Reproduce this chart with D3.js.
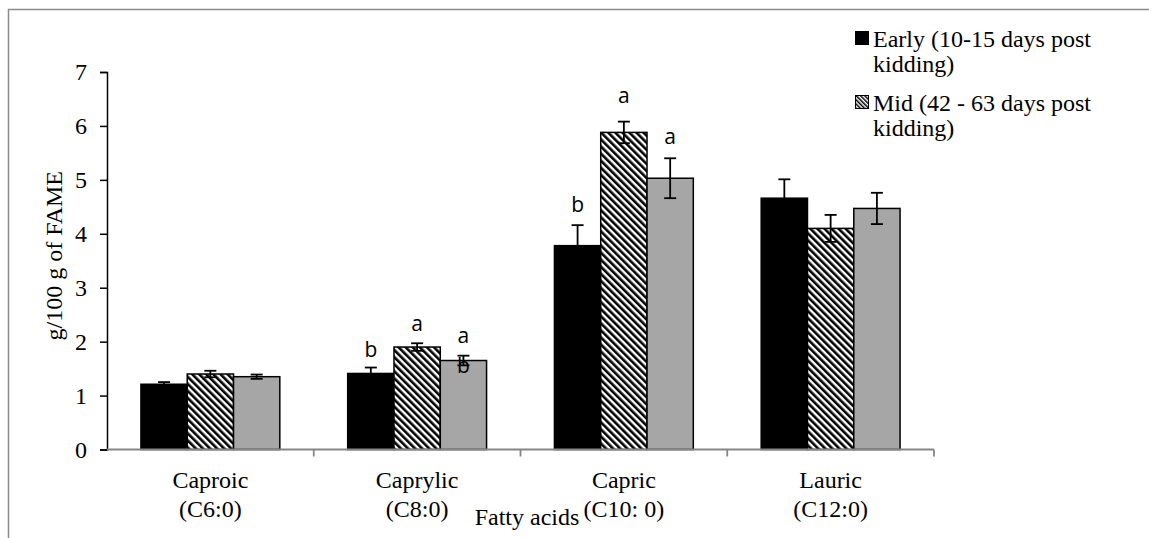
<!DOCTYPE html>
<html>
<head>
<meta charset="utf-8">
<script src="https://cdn.jsdelivr.net/npm/d3@7"></script>
<style>
  body { margin: 0; background: #fff; }
  svg { display: block; }
</style>
</head>
<body>
<div id="chart"></div>
<script>
// Chart data
const categoryNames = ["Caproic", "Caprylic", "Capric", "Lauric"];
const categoryCodes = ["(C6:0)", "(C8:0)", "(C10: 0)", "(C12:0)"];
const seriesNames = ["Early (10-15 days post kidding)", "Mid (42 - 63 days post kidding)", "Late"];
const legendLines = [["Early (10-15 days post", "kidding)"], ["Mid (42 - 63 days post", "kidding)"]];

const earlyValues = [1.21, 1.41, 3.78, 4.66];
const earlyErrors = [0.04, 0.11, 0.38, 0.35];
const midValues = [1.40, 1.90, 5.88, 4.10];
const midErrors = [0.06, 0.07, 0.20, 0.25];
const lateValues = [1.35, 1.65, 5.03, 4.47];
const lateErrors = [0.04, 0.09, 0.37, 0.29];

const yTicks = [0, 1, 2, 3, 4, 5, 6, 7];

// significance letters: category, series index, letter, y position (data units)
const letterCats = ["Caprylic", "Caprylic", "Caprylic", "Caprylic", "Capric", "Capric", "Capric"];
const letterSeries = [0, 1, 2, 2, 0, 1, 2];
const letterText = ["b", "a", "a", "b", "b", "a", "a"];
const letterAt = [1.71, 2.19, 1.97, 1.41, 4.40, 6.42, 5.66];

const width = 1149, height = 538;
const plot = {left: 107, right: 934, top: 72, bottom: 449.5};

const svg = d3.select("#chart").append("svg")
    .attr("width", width)
    .attr("height", height);

// hatch pattern for the mid series
const defs = svg.append("defs");
defs.append("pattern")
    .attr("id", "hatch")
    .attr("patternUnits", "userSpaceOnUse")
    .attr("width", 5)
    .attr("height", 10)
    .attr("patternTransform", "rotate(-45)")
    .call(p => {
      p.append("rect").attr("width", 5).attr("height", 10).attr("fill", "#fff");
      p.append("rect").attr("width", 2.6).attr("height", 10).attr("fill", "#000");
    });
defs.append("pattern")
    .attr("id", "hatchSmall")
    .attr("patternUnits", "userSpaceOnUse")
    .attr("width", 3)
    .attr("height", 10)
    .attr("patternTransform", "rotate(-45)")
    .call(p => {
      p.append("rect").attr("width", 3).attr("height", 10).attr("fill", "#fff");
      p.append("rect").attr("width", 1.5).attr("height", 10).attr("fill", "#000");
    });

const fills = ["#000", "url(#hatch)", "#a6a6a6"];

// outer chart frame (cropped at right and bottom)
svg.append("rect")
    .attr("x", 8.5).attr("y", 9.5)
    .attr("width", 1300).attr("height", 700)
    .attr("fill", "none")
    .attr("stroke", "#8c8c8c")
    .attr("stroke-width", 1.5);

const x0 = d3.scaleBand()
    .domain(categoryNames)
    .range([plot.left, plot.right]);

const x1 = d3.scaleBand()
    .domain(d3.range(seriesNames.length))
    .range([0, x0.bandwidth()])
    .paddingOuter(0.733);

const y = d3.scaleLinear()
    .domain([0, 7])
    .range([plot.bottom, plot.top]);

const allValues = [earlyValues, midValues, lateValues];
const allErrors = [earlyErrors, midErrors, lateErrors];

const bars = [];
categoryNames.forEach((c, i) => {
  allValues.forEach((vals, s) => {
    bars.push({cat: c, s: s, value: vals[i], err: allErrors[s][i]});
  });
});

// bars
svg.append("g")
  .selectAll("rect")
  .data(bars)
  .join("rect")
    .attr("x", d => x0(d.cat) + x1(d.s))
    .attr("y", d => y(d.value))
    .attr("width", x1.bandwidth())
    .attr("height", d => y(0) - y(d.value))
    .attr("fill", d => fills[d.s])
    .attr("stroke", "#000")
    .attr("stroke-width", 1.5);

// error bars
const errG = svg.append("g").attr("stroke", "#000").attr("stroke-width", 1.8);
bars.forEach(d => {
  const cx = x0(d.cat) + x1(d.s) + x1.bandwidth() / 2;
  errG.append("line")
      .attr("x1", cx).attr("x2", cx)
      .attr("y1", y(d.value + d.err)).attr("y2", y(d.value - d.err));
  [d.value + d.err, d.value - d.err].forEach(v => {
    errG.append("line")
        .attr("x1", cx - 6).attr("x2", cx + 6)
        .attr("y1", y(v)).attr("y2", y(v));
  });
});

// significance letters
svg.append("g")
  .selectAll("text")
  .data(letterText)
  .join("text")
    .attr("x", (t, i) => x0(letterCats[i]) + x1(letterSeries[i]) + x1.bandwidth() / 2)
    .attr("y", (t, i) => y(letterAt[i]))
    .attr("text-anchor", "middle")
    .attr("font-family", "'Open Sans', 'Liberation Sans', sans-serif")
    .attr("font-size", 21)
    .attr("fill", "#000")
    .text(t => t);

// Y-axis
const yAxis = svg.append("g")
    .attr("transform", `translate(${plot.left},0)`)
    .call(d3.axisLeft(y).tickValues(yTicks).tickFormat(d3.format("d")).tickSize(7).tickPadding(13));
yAxis.select(".domain").attr("stroke", "#000").attr("stroke-width", 1.5);
yAxis.selectAll(".tick line").attr("stroke", "#000").attr("stroke-width", 1.5);
yAxis.selectAll(".tick text")
    .attr("font-family", "'Liberation Serif', 'Times New Roman', serif")
    .attr("font-size", 24)
    .attr("fill", "#000");

svg.append("text")
    .attr("transform", `translate(62,${(plot.top + plot.bottom) / 2 - 5}) rotate(-90)`)
    .attr("text-anchor", "middle")
    .attr("font-family", "'Liberation Serif', 'Times New Roman', serif")
    .attr("font-size", 24)
    .text("g/100 g of FAME");

// X-axis (ticks on category boundaries)
const xg = svg.append("g").attr("stroke", "#868686").attr("stroke-width", 1.8);
xg.append("line")
    .attr("x1", plot.left).attr("x2", plot.right)
    .attr("y1", y(0)).attr("y2", y(0));
categoryNames.forEach(c => {
  const bx = x0(c) + x0.bandwidth();
  xg.append("line")
      .attr("x1", bx).attr("x2", bx)
      .attr("y1", y(0)).attr("y2", y(0) + 7);
});

const catLabels = svg.append("g")
    .attr("font-family", "'Liberation Serif', 'Times New Roman', serif")
    .attr("font-size", 24)
    .attr("text-anchor", "middle")
    .attr("fill", "#000");
categoryNames.forEach((c, i) => {
  const cx = x0(c) + x0.bandwidth() / 2;
  catLabels.append("text").attr("x", cx).attr("y", 488).text(c);
  catLabels.append("text").attr("x", cx).attr("y", 517).text(categoryCodes[i]);
});

svg.append("text")
    .attr("x", 527)
    .attr("y", 525)
    .attr("text-anchor", "middle")
    .attr("font-family", "'Liberation Serif', 'Times New Roman', serif")
    .attr("font-size", 24)
    .text("Fatty acids");

// Legend (only first two entries visible)
const legendFills = ["#000", "url(#hatchSmall)"];
const legend = svg.append("g")
    .attr("font-family", "'Liberation Serif', 'Times New Roman', serif")
    .attr("font-size", 24);
legendLines.forEach((lines, i) => {
  const top = 31 + i * 64;
  legend.append("rect")
      .attr("x", 855.5).attr("y", top + 0.5)
      .attr("width", 13).attr("height", 13)
      .attr("fill", legendFills[i])
      .attr("stroke", "#000")
      .attr("stroke-width", 1);
  lines.forEach((t, j) => {
    legend.append("text")
        .attr("x", 873)
        .attr("y", top + 16 + j * 25)
        .text(t);
  });
});
</script>
</body>
</html>
